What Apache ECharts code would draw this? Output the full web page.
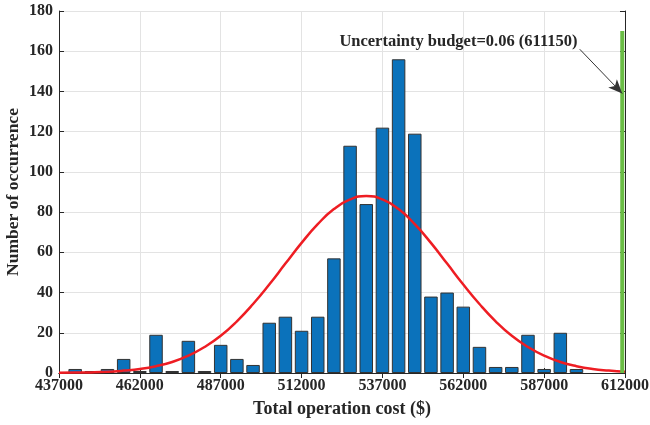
<!DOCTYPE html>
<html>
<head>
<meta charset="utf-8">
<script src="https://cdn.jsdelivr.net/npm/echarts@6/dist/echarts.min.js"></script>
<style>
  html, body { margin: 0; padding: 0; background: #fff; }
  #main { width: 650px; height: 425px; }
</style>
</head>
<body>
<div id="main"></div>
<script>
// histogram bins (centres) and counts
var binCenters = [442000, 447000, 452000, 457000, 462000, 467000, 472000, 477000, 482000, 487000,
                  492000, 497000, 502000, 507000, 512000, 517000, 522000, 527000, 532000, 537000,
                  542000, 547000, 552000, 557000, 562000, 567000, 572000, 577000, 582000, 587000,
                  592000, 597000];
var counts = [2, 1, 2, 7, 1, 19, 1, 16, 1, 14,
              7, 4, 25, 28, 21, 28, 57, 113, 84, 122,
              156, 119, 38, 40, 33, 13, 3, 3, 19, 2,
              20, 2];

// fitted normal curve
var curveX = [437000, 442000, 447000, 452000, 457000, 462000, 467000, 472000, 477000, 482000,
              487000, 492000, 497000, 502000, 507000, 512000, 517000, 522000, 527000, 532000,
              537000, 542000, 547000, 552000, 557000, 562000, 567000, 572000, 577000, 582000,
              587000, 592000, 597000, 602000, 607000, 612000];
var curveY = [0.1, 0.2, 0.3, 0.6, 1.2, 2.0, 3.4, 5.5, 8.6, 12.9,
              18.5, 25.7, 34.3, 44.0, 54.4, 64.7, 74.0, 81.5, 86.3, 88.0,
              86.3, 81.5, 74.0, 64.7, 54.4, 44.0, 34.3, 25.7, 18.5, 12.9,
              8.6, 5.5, 3.4, 2.0, 1.2, 0.6];

// uncertainty budget marker
var budgetX = 611150;
var budgetTop = 170;
var budgetText = 'Uncertainty budget=0.06 (611150)';
var arrowFrom = [598000, 161];
var arrowTo = [611150, 139];

var xTicks = [437000, 612000, 25000];
var yTicks = [0, 180, 20];

var myChart = echarts.init(document.getElementById('main'));

var barData = [];
binCenters.forEach((c, i) => { barData.push([c, counts[i]]); });
var curveData = [];
curveX.forEach((c, i) => { curveData.push([c, curveY[i]]); });

var font = 'Liberation Serif';
var axisLine = { show: true, lineStyle: { color: '#262626', width: 1 } };

var options = {
    animation: false,
    backgroundColor: '#fff',
    grid: { left: 59, right: 25, top: 11, bottom: 52, containLabel: false, outerBoundsMode: 'none' },
    xAxis: [{
        type: 'value',
        min: xTicks[0], max: xTicks[1], interval: xTicks[2],
        name: 'Total operation cost ($)',
        nameLocation: 'middle',
        nameGap: 27,
        nameTextStyle: { fontFamily: font, fontWeight: 'bold', fontSize: 18, color: '#262626' },
        axisLine: axisLine,
        axisTick: { show: true, inside: true, length: 5, lineStyle: { color: '#262626' } },
        axisLabel: { fontFamily: font, fontWeight: 'bold', fontSize: 16, color: '#262626', margin: 5,
                     formatter: function (v) { return String(v); } },
        splitLine: { show: true, lineStyle: { color: '#e3e3e3', width: 1 } }
    }, {
        type: 'value', position: 'top',
        min: xTicks[0], max: xTicks[1], interval: xTicks[2],
        axisLine: axisLine,
        axisTick: { show: true, inside: true, length: 5, lineStyle: { color: '#262626' } },
        axisLabel: { show: false },
        splitLine: { show: false }
    }],
    yAxis: [{
        type: 'value',
        min: yTicks[0], max: yTicks[1], interval: yTicks[2],
        name: 'Number of occurrence',
        nameLocation: 'middle',
        nameGap: 37,
        nameMoveOverlap: false,
        nameTextStyle: { fontFamily: font, fontWeight: 'bold', fontSize: 17.5, color: '#262626' },
        axisLine: axisLine,
        axisTick: { show: true, inside: true, length: 5, lineStyle: { color: '#262626' } },
        axisLabel: { fontFamily: font, fontWeight: 'bold', fontSize: 16, color: '#262626', margin: 6 },
        splitLine: { show: true, lineStyle: { color: '#e3e3e3', width: 1 } }
    }, {
        type: 'value', position: 'right',
        min: yTicks[0], max: yTicks[1], interval: yTicks[2],
        axisLine: axisLine,
        axisTick: { show: true, inside: true, length: 5, lineStyle: { color: '#262626' } },
        axisLabel: { show: false },
        splitLine: { show: false }
    }],
    series: [{
        name: 'count',
        type: 'bar',
        data: barData,
        barWidth: 13.5,
        itemStyle: { color: '#0b72bb', borderColor: '#333333', borderWidth: 1 }
    }, {
        name: 'fit',
        type: 'line',
        data: curveData,
        smooth: true,
        showSymbol: false,
        lineStyle: { color: '#ee1d23', width: 2.5 },
        z: 3
    }, {
        name: 'budget',
        type: 'line',
        data: [[budgetX, 0], [budgetX, budgetTop]],
        showSymbol: false,
        lineStyle: { color: '#6abd45', width: 4 },
        z: 4,
        markLine: {
            silent: true,
            symbol: ['none', 'arrow'],
            symbolSize: [9, 14],
            lineStyle: { color: '#333', width: 1, type: 'solid' },
            label: { show: false },
            data: [[{ coord: arrowFrom }, { coord: arrowTo }]]
        },
        markPoint: {
            silent: true,
            symbol: 'circle',
            symbolSize: 0,
            label: {
                show: true,
                formatter: budgetText,
                fontFamily: font, fontWeight: 'bold', fontSize: 16.5, color: '#262626',
                position: 'inside'
            },
            data: [{ coord: [560500, 164.5] }]
        }
    }]
};
myChart.setOption(options);
</script>
</body>
</html>
